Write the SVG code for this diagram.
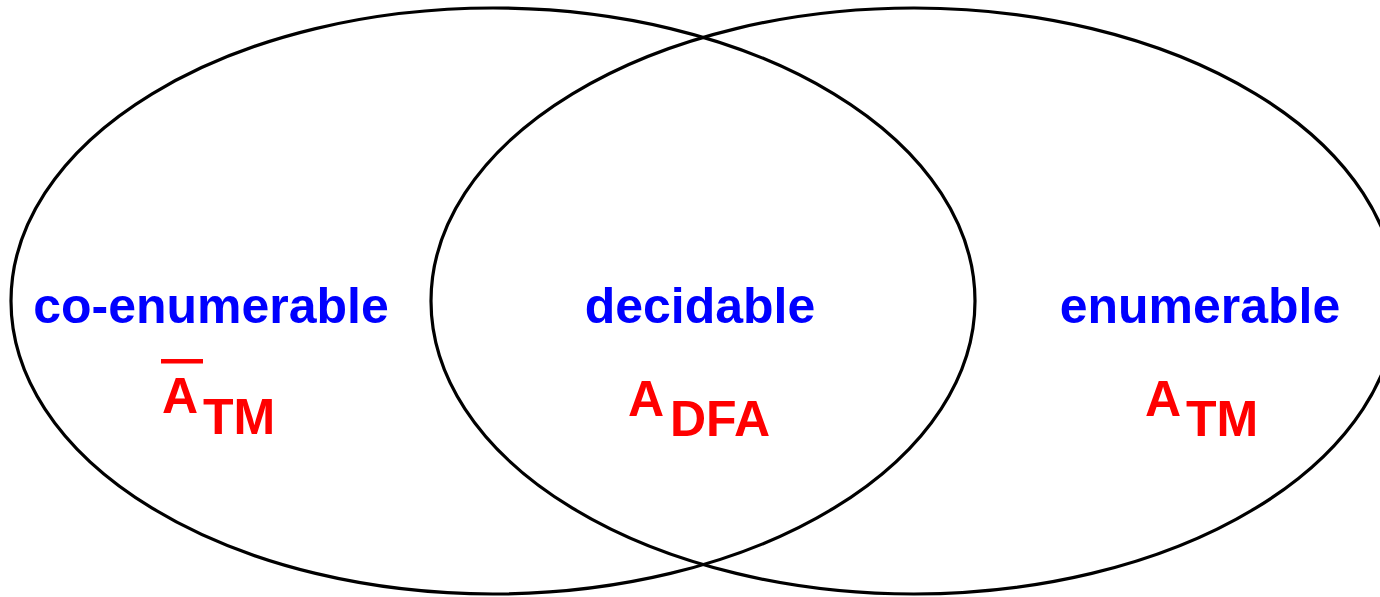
<svg xmlns="http://www.w3.org/2000/svg" width="1380" height="597" viewBox="0 0 1380 597">
<style>
.ring{fill:none;stroke:#000;stroke-width:3.2}
.lbl{font-family:"Liberation Sans",Arial,sans-serif;font-weight:bold;font-size:50px;fill:#0000ff;text-anchor:middle}
.lang{font-family:"Liberation Sans",Arial,sans-serif;font-weight:bold;font-size:50px;fill:#ff0000}
</style>
<rect width="1380" height="597" fill="#fff"/>
<g id="set-coenumerable">
<ellipse class="ring" cx="493" cy="301" rx="482" ry="293"/>
</g>
<g id="set-enumerable">
<ellipse class="ring" cx="914" cy="301" rx="483" ry="293"/>
</g>
<g id="label-coenumerable">
<text class="lbl" x="211" y="323">co-enumerable</text>
<text class="lang" x="162" y="413">A</text>
<text class="lang" x="203" y="434">TM</text>
<rect x="161" y="359" width="42" height="4.5" fill="#ff0000"/>
</g>
<g id="label-decidable">
<text class="lbl" x="700" y="323">decidable</text>
<text class="lang" x="628" y="416">A</text>
<text class="lang" x="670" y="436">DFA</text>
</g>
<g id="label-enumerable">
<text class="lbl" x="1200" y="323">enumerable</text>
<text class="lang" x="1145" y="416">A</text>
<text class="lang" x="1186" y="436">TM</text>
</g>
</svg>
